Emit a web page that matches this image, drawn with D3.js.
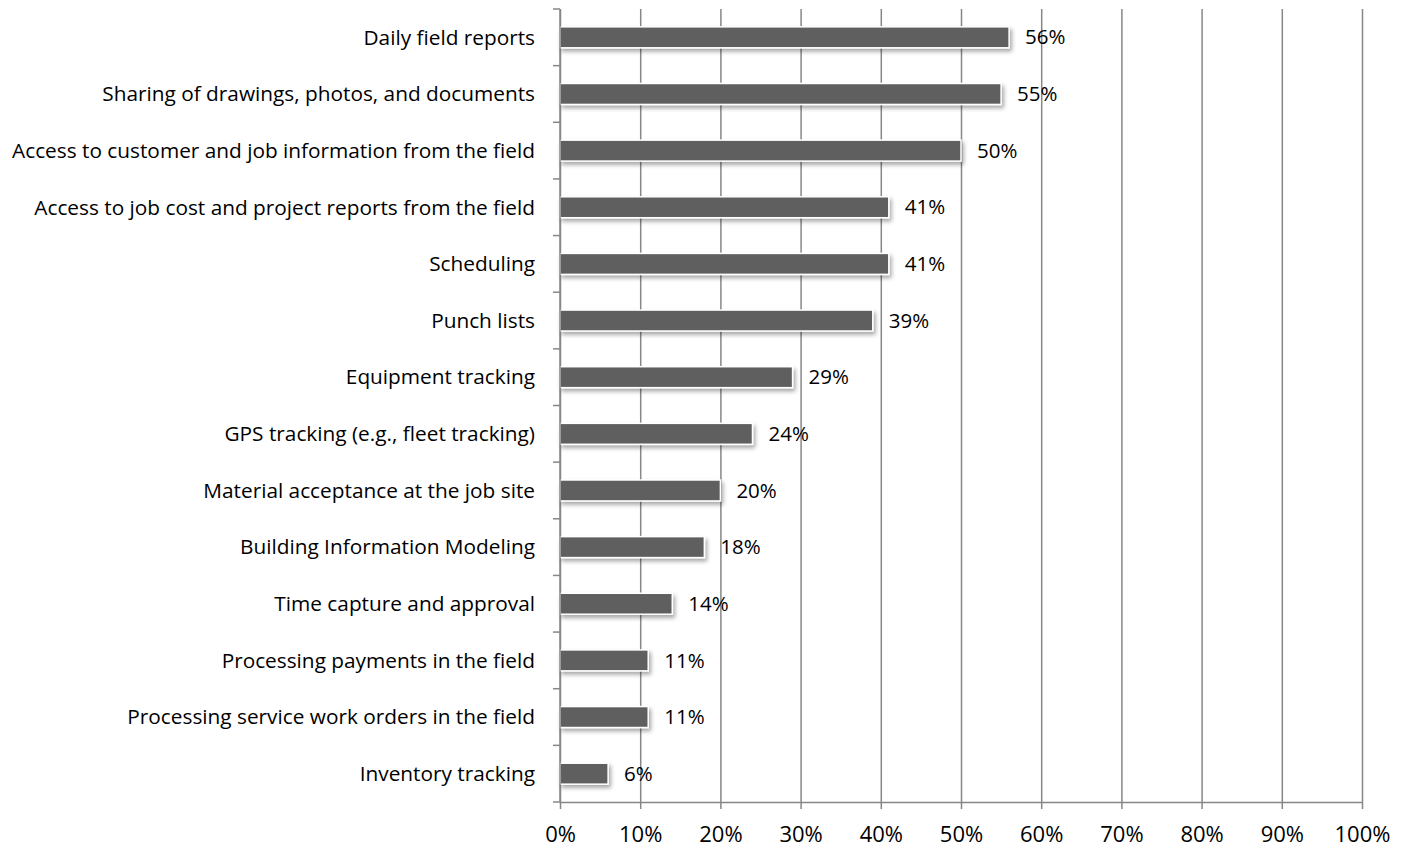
<!DOCTYPE html>
<html>
<head>
<meta charset="utf-8">
<script src="https://cdn.jsdelivr.net/npm/d3@7"></script>
<style>
  body { margin: 0; background: #fff; }
  text { font-family: "Open Sans", sans-serif; fill: #000; }
  .grid line { stroke: #878787; stroke-width: 1.5; }
  .grid path { display: none; }
  .axis path, .axis line { stroke: #878787; stroke-width: 1.5; }
</style>
</head>
<body>
<svg id="chart" width="1411" height="848"></svg>
<script>
// data
const categories = [
  'Daily field reports',
  'Sharing of drawings, photos, and documents',
  'Access to customer and job information from the field',
  'Access to job cost and project reports from the field',
  'Scheduling',
  'Punch lists',
  'Equipment tracking',
  'GPS tracking (e.g., fleet tracking)',
  'Material acceptance at the job site',
  'Building Information Modeling ',
  'Time capture and approval',
  'Processing payments in the field',
  'Processing service work orders in the field',
  'Inventory tracking'
];
const values = [56, 55, 50, 41, 41, 39, 29, 24, 20, 18, 14, 11, 11, 6];
const xTicks = [0, 10, 20, 30, 40, 50, 60, 70, 80, 90, 100];

const width = 1411, height = 848;
const margin = {top: 9, right: 49, bottom: 46, left: 560};
const chartWidth = width - margin.left - margin.right,
      chartHeight = height - margin.top - margin.bottom;

const svg = d3.select('#chart');

// shadow under the bars
const defs = svg.append('defs');
const f = defs.append('filter').attr('id', 'shadow')
  .attr('x', '-10%').attr('y', '-30%').attr('width', '130%').attr('height', '180%');
f.append('feDropShadow').attr('dx', 2).attr('dy', 3).attr('stdDeviation', 2)
  .attr('flood-color', '#000').attr('flood-opacity', 0.35);

const xScale = d3.scaleLinear().domain([0, 100]).range([0, chartWidth]);
const yScale = d3.scaleBand().domain(categories).range([0, chartHeight]).paddingInner(0.63).paddingOuter(0.315);

const g = svg.append('g').attr('transform', `translate(${margin.left}, ${margin.top})`);

// vertical gridlines
g.append('g')
  .attr('class', 'grid')
  .call(d3.axisBottom(xScale).tickValues(xTicks).tickSize(chartHeight).tickFormat(''));

// bars
g.selectAll('.bar')
  .data(values)
  .join('rect')
  .attr('class', 'bar')
  .attr('x', 0)
  .attr('y', (d, i) => yScale(categories[i]))
  .attr('width', d => xScale(d))
  .attr('height', yScale.bandwidth())
  .attr('fill', '#5f5f5f')
  .attr('stroke', '#fff')
  .attr('stroke-width', 1.5)
  .attr('filter', 'url(#shadow)');

// value labels
g.selectAll('.val')
  .data(values)
  .join('text')
  .attr('class', 'val')
  .attr('x', d => xScale(d) + 16)
  .attr('y', (d, i) => yScale(categories[i]) + yScale.bandwidth() / 2)
  .attr('dy', '0.35em')
  .style('font-size', '20.5px')
  .text(d => d + '%');

// x axis
const xAxis = g.append('g')
  .attr('class', 'axis')
  .attr('transform', `translate(0, ${chartHeight})`)
  .call(d3.axisBottom(xScale).tickValues(xTicks).tickSizeInner(7).tickSizeOuter(0).tickPadding(17).tickFormat(d => d + '%'));
xAxis.selectAll('text').style('font-size', '22px');

// y axis with ticks between categories
const boundaries = d3.range(categories.length + 1).map(i => i * chartHeight / categories.length);
const yAxisG = g.append('g').attr('class', 'axis');
yAxisG.append('line')
  .attr('x1', 0).attr('x2', 0).attr('y1', 0).attr('y2', chartHeight)
  .attr('stroke', '#878787').attr('stroke-width', 1.5);
yAxisG.selectAll('.ytick')
  .data(boundaries)
  .join('line')
  .attr('x1', -7).attr('x2', 0)
  .attr('y1', d => d).attr('y2', d => d)
  .attr('stroke', '#878787').attr('stroke-width', 1.5);

// category labels
g.selectAll('.cat')
  .data(categories)
  .join('text')
  .attr('class', 'cat')
  .attr('x', -25)
  .attr('y', d => yScale(d) + yScale.bandwidth() / 2)
  .attr('dy', '0.35em')
  .attr('text-anchor', 'end')
  .style('font-size', '20.8px')
  .text(d => d);
</script>
</body>
</html>
